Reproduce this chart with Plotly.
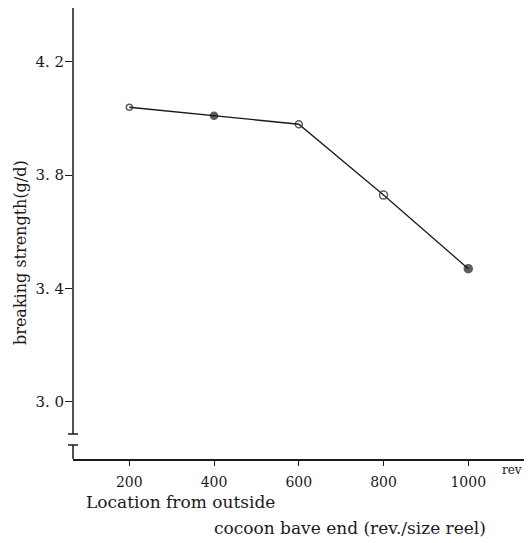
import plotly.graph_objects as go

# ---- data ----
location_rev = [200, 400, 600, 800, 1000]
breaking_strength = [4.04, 4.01, 3.98, 3.73, 3.47]
x_tick_vals = [200, 400, 600, 800, 1000]
x_tick_text = ["200", "400", "600", "800", "1000"]
y_tick_vals = [3.0, 3.4, 3.8, 4.2]
y_tick_text = ["3. 0", "3. 4", "3. 8", "4. 2"]

# ---- styling ----
marker_symbols = ["circle-open", "circle", "circle-open", "circle-open", "circle"]
marker_sizes = [6, 7, 7, 8, 8]
FONT = "DejaVu Serif"
INK = "#1a1a1a"

W, H = 531, 543
L, R, T, B = 73, 7, 8, 84
PW, PH = W - L - R, H - T - B

def px_to_paper_x(px):
    return (px - L) / PW

def px_to_paper_y(py):
    return (H - B - py) / PH

fig = go.Figure()
fig.add_trace(go.Scatter(
    x=location_rev, y=breaking_strength,
    mode="lines+markers",
    line=dict(color=INK, width=1.3),
    marker=dict(symbol=marker_symbols, size=marker_sizes, color=INK,
                line=dict(color=INK, width=1.5)),
    showlegend=False,
))

fig.update_layout(
    width=W, height=H,
    margin=dict(l=L, r=R, t=T, b=B),
    paper_bgcolor="white", plot_bgcolor="white",
    font=dict(family=FONT, color=INK, size=14),
    xaxis=dict(
        range=[67.1, 1131.5],
        tickmode="array", tickvals=x_tick_vals, ticktext=x_tick_text,
        showgrid=False, zeroline=False,
        showline=True, linecolor=INK, linewidth=1.5,
        ticks="outside", ticklen=5, tickwidth=1.2, tickcolor=INK,
        tickfont=dict(family=FONT, size=14, color=INK),
        ticklabelstandoff=4,
    ),
    yaxis=dict(
        range=[2.7977, 4.3906],
        tickmode="array", tickvals=y_tick_vals, ticktext=y_tick_text,
        showgrid=False, zeroline=False, showline=False,
        ticks="outside", ticklen=7, tickwidth=1.2, tickcolor=INK,
        tickfont=dict(family=FONT, size=15, color=INK),
        ticklabelstandoff=-2,
    ),
)

# broken y-axis line
brk_top = px_to_paper_y(434)
brk_bot = px_to_paper_y(445)
line_style = dict(color=INK, width=1.5)
fig.add_shape(type="line", xref="paper", yref="paper", x0=0, x1=0, y0=1, y1=brk_top, line=line_style)
fig.add_shape(type="line", xref="paper", yref="paper", x0=0, x1=0, y0=brk_bot, y1=0, line=line_style)
for yb in (brk_top, brk_bot):
    fig.add_shape(type="line", xref="paper", yref="paper", xsizemode="pixel", xanchor=0,
                  x0=-5, x1=5, y0=yb, y1=yb, line=line_style)

# labels
fig.add_annotation(text="breaking strength(g/d)", textangle=-90,
                   xref="paper", yref="paper", x=px_to_paper_x(20), y=px_to_paper_y(253),
                   xanchor="center", yanchor="middle", showarrow=False,
                   font=dict(family=FONT, size=16, color=INK))
fig.add_annotation(text="rev", xref="paper", yref="paper",
                   x=px_to_paper_x(500), y=px_to_paper_y(470),
                   xanchor="left", yanchor="middle", showarrow=False,
                   font=dict(family=FONT, size=12, color=INK))
fig.add_annotation(text="Location from outside", xref="paper", yref="paper",
                   x=px_to_paper_x(84), y=px_to_paper_y(502),
                   xanchor="left", yanchor="middle", showarrow=False,
                   font=dict(family=FONT, size=17, color=INK))
fig.add_annotation(text="cocoon bave end (rev./size reel)", xref="paper", yref="paper",
                   x=px_to_paper_x(212), y=px_to_paper_y(528),
                   xanchor="left", yanchor="middle", showarrow=False,
                   font=dict(family=FONT, size=17, color=INK))

fig.write_html("out.html")
